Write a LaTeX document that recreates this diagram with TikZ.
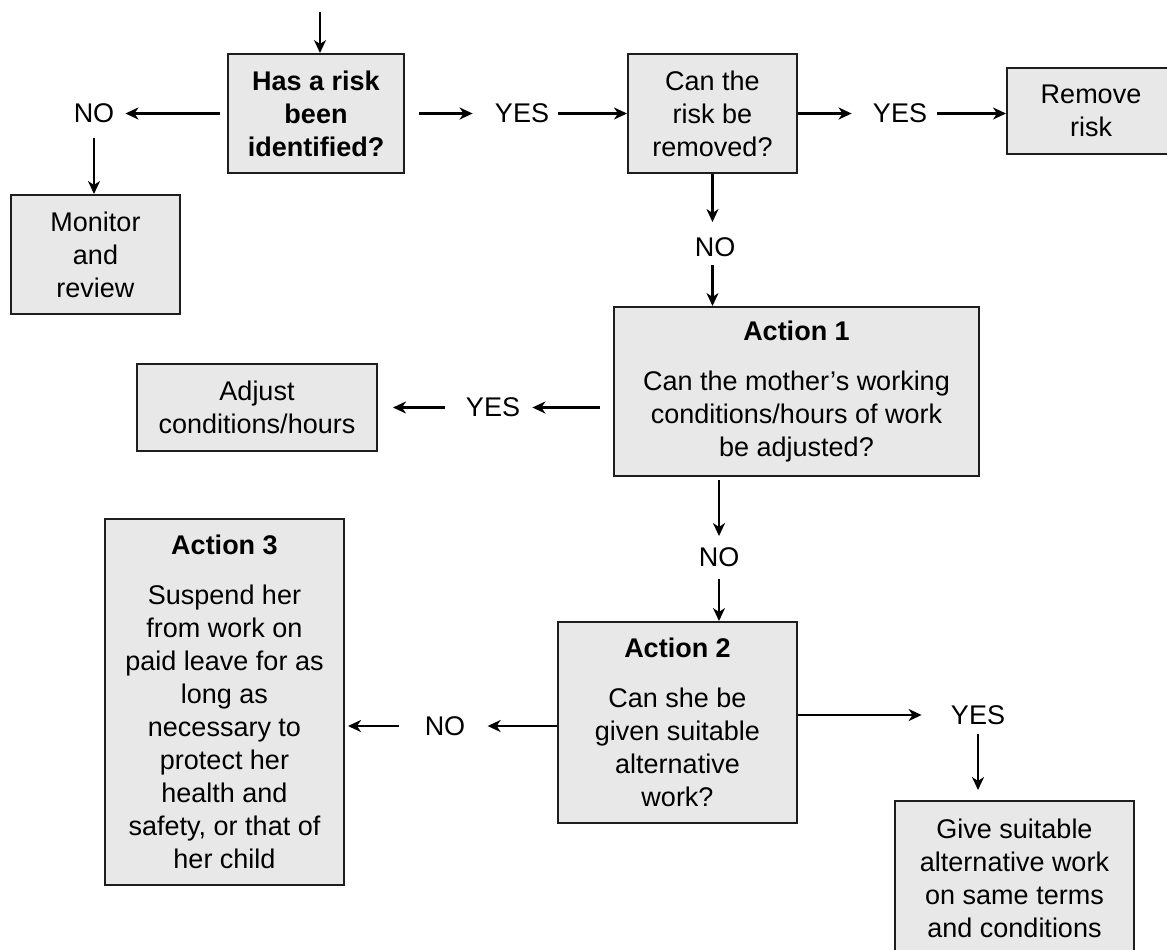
\documentclass[tikz,border=0pt]{standalone}
\usepackage{fontspec}
\setmainfont{Liberation Sans}
\usetikzlibrary{arrows.meta,positioning,calc}
\definecolor{hsFill}{HTML}{E8E8E8}
\definecolor{hsEdge}{HTML}{1E1E1E}
\tikzset{
  % Grey question / action box.
  hs/box/.style={
    draw=hsEdge, fill=hsFill, line width=1pt, align=center,
    inner sep=0pt, font=\fontsize{13.5}{16.5}\selectfont, text=black
  },
  % YES / NO answers sitting on the connectors.
  hs/answer/.style={
    inner sep=0pt, font=\fontsize{13.5}{16.5}\selectfont, text=black
  },
  % Connectors.
  hs/arrow/.style={
    -{Stealth[length=6.5pt,width=6pt,inset=2pt]}, line width=1.3pt, draw=black
  },
}

\begin{document}
\begin{tikzpicture}[x=0.5pt,y=-0.5pt,
  q/.style={hs/box},
  a/.style={hs/arrow},
  ans/.style={hs/answer}]
  \useasboundingbox (0,0) rectangle (1167,949);
  % boxes
  \node[q, minimum width=88pt,   minimum height=59.5pt] (has)  at (316,113.5)
       {\bfseries Has a risk\\\bfseries been\\\bfseries identified?};
  \node[q, minimum width=84.5pt, minimum height=59.5pt] (can)  at (712.5,113.5)
       {Can the\\risk be\\removed?};
  \node[q, minimum width=84pt,   minimum height=43pt]   (rem)  at (1091,111)
       {Remove\\risk};
  \node[q, minimum width=84.5pt, minimum height=59.5pt] (mon)  at (95.5,254.5)
       {Monitor\\and\\review};
  \node[q, minimum width=182.5pt, minimum height=84.5pt] (act1) at (796.5,391.5)
       {\textbf{Action 1}\\[8.5pt]Can the mother’s working\\conditions/hours of work\\be adjusted?};
  \node[q, minimum width=120pt,  minimum height=43.5pt] (adj)  at (257,407.5)
       {Adjust\\conditions/hours};
  \node[q, minimum width=119.5pt, minimum height=183pt] (act3) at (224.5,702)
       {\textbf{Action 3}\\[8.5pt]Suspend her\\from work on\\paid leave for as\\long as\\necessary to\\protect her\\health and\\safety, or that of\\her child};
  \node[q, minimum width=119.5pt, minimum height=100.5pt] (act2) at (677.5,722.5)
       {\textbf{Action 2}\\[8.5pt]Can she be\\given suitable\\alternative\\work?};
  \node[q, minimum width=119.5pt, minimum height=77pt]  (give) at (1014.5,878)
       {Give suitable\\alternative work\\on same terms\\and conditions};
  % answers
  \node[ans] (no1)  at (94,113.5)  {NO};
  \node[ans] (yes1) at (522,113.5) {YES};
  \node[ans] (yes2) at (900,113.5) {YES};
  \node[ans] (no2)  at (715,247)   {NO};
  \node[ans] (yes3) at (493,407.5) {YES};
  \node[ans] (no3)  at (719,557)   {NO};
  \node[ans] (no4)  at (445,726)   {NO};
  \node[ans] (yes4) at (978,715)   {YES};
  \coordinate (entry) at (320,12);
  % connectors
  \draw[a] (entry) -- (entry |- has.north);
  \draw[a, shorten <=3.5pt, shorten >=5.4pt] (has.west) -- (has.west -| no1.east);
  \draw[a, shorten <=7.3pt] (no1.south) -- (no1.south |- mon.north);
  \draw[a, shorten <=7pt, shorten >=11pt] (has.east) -- (yes1.west);
  \draw[a, shorten <=4.5pt] (yes1.east) -- (can.west);
  \draw[a, shorten >=10.5pt] (can.east) -- (yes2.west);
  \draw[a, shorten <=5pt] (yes2.east) -- (yes2.east -| rem.west);
  \draw[a, shorten >=7.5pt] (can.south) -- (can.south |- no2.north);
  \draw[a, shorten <=4pt] (can.south |- no2.south) -- (can.south |- act1.north);
  \draw[a, shorten <=6.5pt, shorten >=6pt] (act1.west |- yes3) -- (yes3.east);
  \draw[a, shorten <=10.5pt, shorten >=7.5pt] (yes3.west) -- (yes3.west -| adj.east);
  \draw[a, shorten <=1.5pt, shorten >=5.5pt] (no3 |- act1.south) -- (no3.north);
  \draw[a, shorten <=6pt] (no3.south) -- (no3.south |- act2.north);
  \draw[a, shorten >=11pt] (act2.west |- no4) -- (no4.east);
  \draw[a, shorten <=12.5pt, shorten >=1.5pt] (no4.west) -- (no4.west -| act3.east);
  \draw[a, shorten >=14.5pt] (act2.east |- yes4) -- (yes4.west);
  \draw[a, shorten <=4.5pt, shorten >=5pt] (yes4.south) -- (yes4.south |- give.north);
\end{tikzpicture}
\end{document}
